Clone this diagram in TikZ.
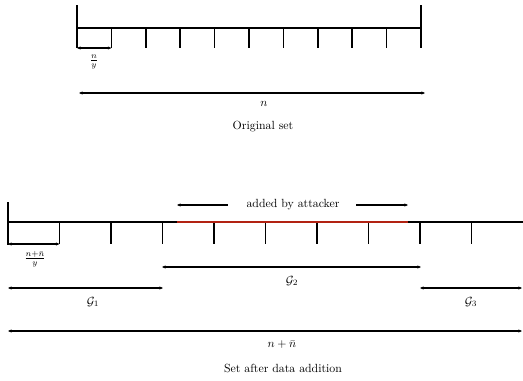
\documentclass[tikz,border=0pt]{standalone}
\usetikzlibrary{arrows.meta}
\definecolor{attackred}{RGB}{178,34,18}
\begin{document}
\begin{tikzpicture}[x=0.846pt,y=-0.846pt,
  bar/.style={line width=1.4pt},
  redbar/.style={line width=1.9pt,draw=attackred},
  dim/.style={line width=1.4pt,{Stealth[length=3pt,width=2.6pt]}-{Stealth[length=3pt,width=2.6pt]}},
  ldim/.style={line width=1.4pt,{Stealth[length=3pt,width=2.6pt]}-},
  rdim/.style={line width=1.4pt,-{Stealth[length=3pt,width=2.6pt]}},
  lbl/.style={inner sep=0pt}]
\useasboundingbox (0,0) rectangle (523,380);

% ---------- original set ----------
\coordinate (aTL) at (77,5);  \coordinate (aBL) at (77,48);
\coordinate (aTR) at (421,5); \coordinate (aBR) at (421,48);
\coordinate (aL) at (77,28);  \coordinate (aR) at (421,28);
\draw[bar] (aTL) -- (aBL);
\draw[bar] (aTR) -- (aBR);
\draw[bar] (aL) -- (aR);
\foreach \i in {1,...,9} \draw[bar] ({77+34.4*\i},28) -- ({77+34.4*\i},48);
\coordinate (aW1) at (77,48); \coordinate (aW2) at (111.4,48);
\draw[dim] (aW1) -- (aW2);
\node[lbl] (frac1) at (94,62) {$\frac{n}{y}$};
\coordinate (aN1) at (79,93); \coordinate (aN2) at (425,93);
\draw[dim] (aN1) -- (aN2);
\node[lbl] (nlab) at (264,104) {$n$};
\node[lbl] (orig) at (263,127) {Original set};

% ---------- set after data addition ----------
\coordinate (bTL) at (8,202); \coordinate (bBL) at (8,245);
\coordinate (bL) at (8,222);  \coordinate (bR) at (523,222);
\draw[bar] (bTL) -- (bBL);
\draw[bar] (bL) -- (bR);
\foreach \i in {1,...,9} \draw[bar] ({8+51.5*\i},222) -- ({8+51.5*\i},244);
\coordinate (rA) at (177,222); \coordinate (rB) at (408,222);
\draw[redbar] (rA) -- (rB);
\node[lbl] (added) at (293,205) {added by attacker};
\coordinate (adL1) at (177,205); \coordinate (adL2) at (228,205);
\coordinate (adR1) at (356,205); \coordinate (adR2) at (408,205);
\draw[ldim] (adL1) -- (adL2);
\draw[rdim] (adR1) -- (adR2);
\coordinate (bW1) at (8,244); \coordinate (bW2) at (59.5,244);
\draw[dim] (bW1) -- (bW2);
\node[lbl] (frac2) at (35,259) {$\frac{n+\bar{n}}{y}$};
\coordinate (g2a) at (162,267); \coordinate (g2b) at (421,267);
\draw[dim] (g2a) -- (g2b);
\node[lbl] (g2) at (292,281) {$\mathcal{G}_2$};
\coordinate (g1a) at (8,288); \coordinate (g1b) at (163,288);
\draw[dim] (g1a) -- (g1b);
\node[lbl] (g1) at (93,302) {$\mathcal{G}_1$};
\coordinate (g3a) at (420,288); \coordinate (g3b) at (522,288);
\draw[dim] (g3a) -- (g3b);
\node[lbl] (g3) at (471,302) {$\mathcal{G}_3$};
\coordinate (tA) at (8,331); \coordinate (tB) at (522,331);
\draw[dim] (tA) -- (tB);
\node[lbl] (tot) at (282,345) {$n+\bar{n}$};
\node[lbl] (after) at (283,368) {Set after data addition};
\end{tikzpicture}
\end{document}
